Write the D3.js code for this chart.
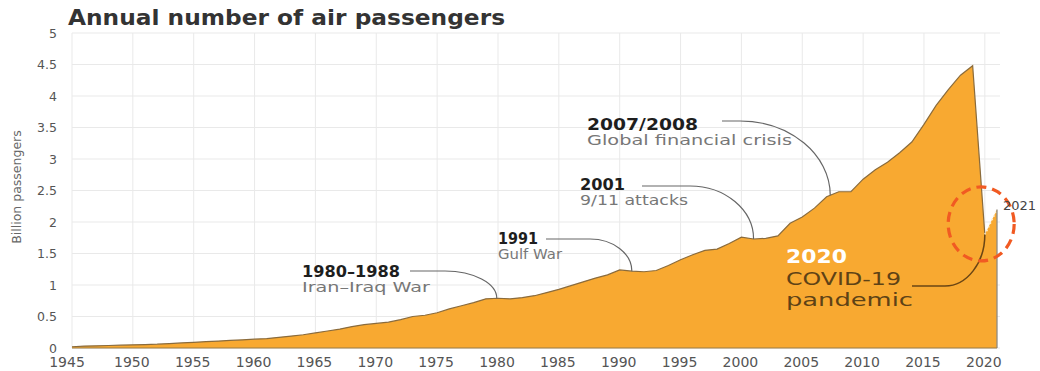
<!DOCTYPE html>
<html>
<head>
<meta charset="utf-8">
<script src="https://cdn.jsdelivr.net/npm/d3@7/dist/d3.min.js"></script>
<style>
  html, body { margin: 0; padding: 0; background: #ffffff; }
  svg { display: block; }
  text { font-family: "DejaVu Sans", sans-serif; }
</style>
</head>
<body>
<svg id="chart" width="1040" height="371"></svg>
<script>
// Annual number of air passengers, billions
const years = [
  1945, 1946, 1947, 1948, 1949, 1950, 1951, 1952, 1953, 1954,
  1955, 1956, 1957, 1958, 1959, 1960, 1961, 1962, 1963, 1964,
  1965, 1966, 1967, 1968, 1969, 1970, 1971, 1972, 1973, 1974,
  1975, 1976, 1977, 1978, 1979, 1980, 1981, 1982, 1983, 1984,
  1985, 1986, 1987, 1988, 1989, 1990, 1991, 1992, 1993, 1994,
  1995, 1996, 1997, 1998, 1999, 2000, 2001, 2002, 2003, 2004,
  2005, 2006, 2007, 2008, 2009, 2010, 2011, 2012, 2013, 2014,
  2015, 2016, 2017, 2018, 2019, 2020, 2021
];
const passengers = [
  0.02, 0.03, 0.035, 0.04, 0.045, 0.05, 0.055, 0.06, 0.07, 0.08,
  0.09, 0.10, 0.11, 0.12, 0.13, 0.14, 0.15, 0.17, 0.19, 0.21,
  0.24, 0.27, 0.30, 0.34, 0.37, 0.39, 0.41, 0.45, 0.50, 0.52,
  0.56, 0.62, 0.67, 0.72, 0.78, 0.79, 0.78, 0.80, 0.83, 0.88,
  0.93, 0.99, 1.05, 1.11, 1.16, 1.24, 1.22, 1.21, 1.23, 1.31,
  1.40, 1.48, 1.55, 1.57, 1.66, 1.76, 1.73, 1.74, 1.78, 1.98,
  2.08, 2.22, 2.40, 2.48, 2.48, 2.68, 2.83, 2.95, 3.10, 3.27,
  3.55, 3.85, 4.10, 4.33, 4.48, 1.80, 2.20
];

const xTickYears = [1945, 1950, 1955, 1960, 1965, 1970, 1975, 1980, 1985,
                    1990, 1995, 2000, 2005, 2010, 2015, 2020];
const yTickValues = [0, 0.5, 1, 1.5, 2, 2.5, 3, 3.5, 4, 4.5, 5];

// Historic events: the year each callout points at
const eventYears = [1979.9, 1991, 2001, 2007.3, 2020];
const eventTitles = ["1980–1988", "1991", "2001", "2007/2008", "2020"];
const eventNotes = [["Iran–Iraq War"], ["Gulf War"], ["9/11 attacks"],
                    ["Global financial crisis"], ["COVID-19", "pandemic"]];

const titleText = "Annual number of air passengers";
const yAxisTitle = "Billion passengers";
const lastYearLabel = "2021";

// ---- layout ----
const svg = d3.select("#chart");
const x = d3.scaleLinear().domain([1945, 2021]).range([72, 997]);
const y = d3.scaleLinear().domain([0, 5]).range([348, 33]);

const data = years.map((yr, i) => ({ year: yr, value: passengers[i] }));
const valueAt = yr => {
  const i = d3.bisector(d => d.year).right(data, yr) - 1;
  const a = data[Math.max(0, i)], b = data[Math.min(data.length - 1, i + 1)];
  if (a === b) return a.value;
  return a.value + (b.value - a.value) * (yr - a.year) / (b.year - a.year);
};

// grid
const grid = svg.append("g");
grid.selectAll("line.h").data(yTickValues).join("line")
  .attr("x1", 72).attr("x2", 1000)
  .attr("y1", d => y(d)).attr("y2", d => y(d))
  .attr("stroke", "#e9e9e9").attr("stroke-width", 1);
grid.selectAll("line.v").data(xTickYears).join("line")
  .attr("x1", d => x(d)).attr("x2", d => x(d))
  .attr("y1", y(5)).attr("y2", y(0))
  .attr("stroke", "#e9e9e9").attr("stroke-width", 1);

// area
const area = d3.area().x(d => x(d.year)).y0(y(0)).y1(d => y(d.value));
svg.append("path").datum(data)
  .attr("d", area)
  .attr("fill", "#f8a931");

// outline up to 2020, dotted recovery segment into 2021
const line = d3.line().x(d => x(d.year)).y(d => y(d.value));
const solidPart = data.filter(d => d.year <= 2020);
const recovery = data.filter(d => d.year >= 2020);
svg.append("path").datum(solidPart)
  .attr("d", line).attr("fill", "none")
  .attr("stroke", "#8a6b3c").attr("stroke-width", 1.2);
svg.append("path").datum(recovery)
  .attr("d", line).attr("fill", "none")
  .attr("stroke", "#fff1d2").attr("stroke-width", 1.8)
  .attr("stroke-dasharray", "1.5 2.5");
const last = data[data.length - 1];
svg.append("line")
  .attr("x1", x(last.year)).attr("x2", x(last.year))
  .attr("y1", y(last.value)).attr("y2", y(0))
  .attr("stroke", "#8f8a80").attr("stroke-width", 1.3);
svg.append("line")
  .attr("x1", x(1945)).attr("x2", x(last.year))
  .attr("y1", y(0)).attr("y2", y(0))
  .attr("stroke", "#9a7a45").attr("stroke-width", 1);

// axes labels
svg.append("g").selectAll("text").data(yTickValues).join("text")
  .attr("x", 57).attr("y", d => y(d) + 4.5)
  .attr("text-anchor", "end")
  .attr("font-size", 12.5).attr("fill", "#555")
  .text(d => d);
svg.append("g").selectAll("text").data(xTickYears).join("text")
  .attr("x", d => x(d) - (d === 1945 ? 5 : 1)).attr("y", 367)
  .attr("text-anchor", "middle")
  .attr("font-size", 14).attr("fill", "#555")
  .text(d => d);
svg.append("text")
  .attr("transform", "translate(21,187) rotate(-90)")
  .attr("text-anchor", "middle")
  .attr("font-size", 12.5).attr("fill", "#666")
  .text(yAxisTitle);

// title
svg.append("text")
  .attr("x", 68).attr("y", 25)
  .attr("font-size", 21.5).attr("font-weight", "bold").attr("fill", "#333")
  .attr("textLength", 437).attr("lengthAdjust", "spacingAndGlyphs")
  .text(titleText);

// callouts
const calloutLayout = [
  { tx: 302, ty: 277, tw: 98, nw: [128], lineFrom: 410, lineY: 271, bend: 445, size: 15, noteSize: 14.5, gap: 15, lead: 15 },
  { tx: 498, ty: 244, tw: 40, nw: [64], lineFrom: 546, lineY: 239, bend: 590, size: 15, noteSize: 14.5, gap: 15, lead: 15 },
  { tx: 580, ty: 190, tw: 45, nw: [108], lineFrom: 642, lineY: 186, bend: 690, size: 15, noteSize: 14.5, gap: 15, lead: 15 },
  { tx: 587, ty: 130, tw: 111, nw: [205], lineFrom: 722, lineY: 121, bend: 740, size: 15, noteSize: 14.5, gap: 15, lead: 15 },
  { tx: 786, ty: 263, tw: 61, nw: [115, 127], lineFrom: 912, lineY: 286, bend: 945, size: 19, noteSize: 18, gap: 22, lead: 21 }
];
const k = 0.55;
eventYears.forEach((yr, i) => {
  const L = calloutLayout[i];
  const covid = i === 4;
  const g = svg.append("g");
  g.append("text")
    .attr("x", L.tx).attr("y", L.ty)
    .attr("font-size", L.size).attr("font-weight", "bold")
    .attr("fill", covid ? "#ffffff" : "#1e1e1e")
    .attr("textLength", L.tw).attr("lengthAdjust", "spacingAndGlyphs")
    .text(eventTitles[i]);
  eventNotes[i].forEach((note, j) => {
    g.append("text")
      .attr("x", L.tx).attr("y", L.ty + L.gap + j * L.lead)
      .attr("font-size", L.noteSize)
      .attr("fill", covid ? "#5e4216" : "#777")
      .attr("textLength", L.nw[j]).attr("lengthAdjust", "spacingAndGlyphs")
      .text(note);
  });
  const ex = x(yr), ey = y(valueAt(yr));
  const sx = L.lineFrom, sy = L.lineY, mx = L.bend;
  const p = d3.path();
  p.moveTo(sx, sy);
  p.lineTo(mx, sy);
  p.bezierCurveTo(mx + k * (ex - mx), sy, ex, ey - k * (ey - sy), ex, ey);
  g.append("path").attr("d", p.toString())
    .attr("fill", "none")
    .attr("stroke", covid ? "#6a4514" : "#666")
    .attr("stroke-width", covid ? 1.5 : 1.2);
});

// highlight ring around the pandemic dip and rebound
svg.append("ellipse")
  .attr("cx", x(2019.7)).attr("cy", y(1.97))
  .attr("rx", 33).attr("ry", 37)
  .attr("fill", "none")
  .attr("stroke", "#f15a22").attr("stroke-width", 3.2)
  .attr("stroke-dasharray", "10 6");

svg.append("text")
  .attr("x", x(last.year) + 6).attr("y", y(last.value) + 1)
  .attr("font-size", 13).attr("fill", "#444")
  .text(lastYearLabel);
</script>
</body>
</html>
